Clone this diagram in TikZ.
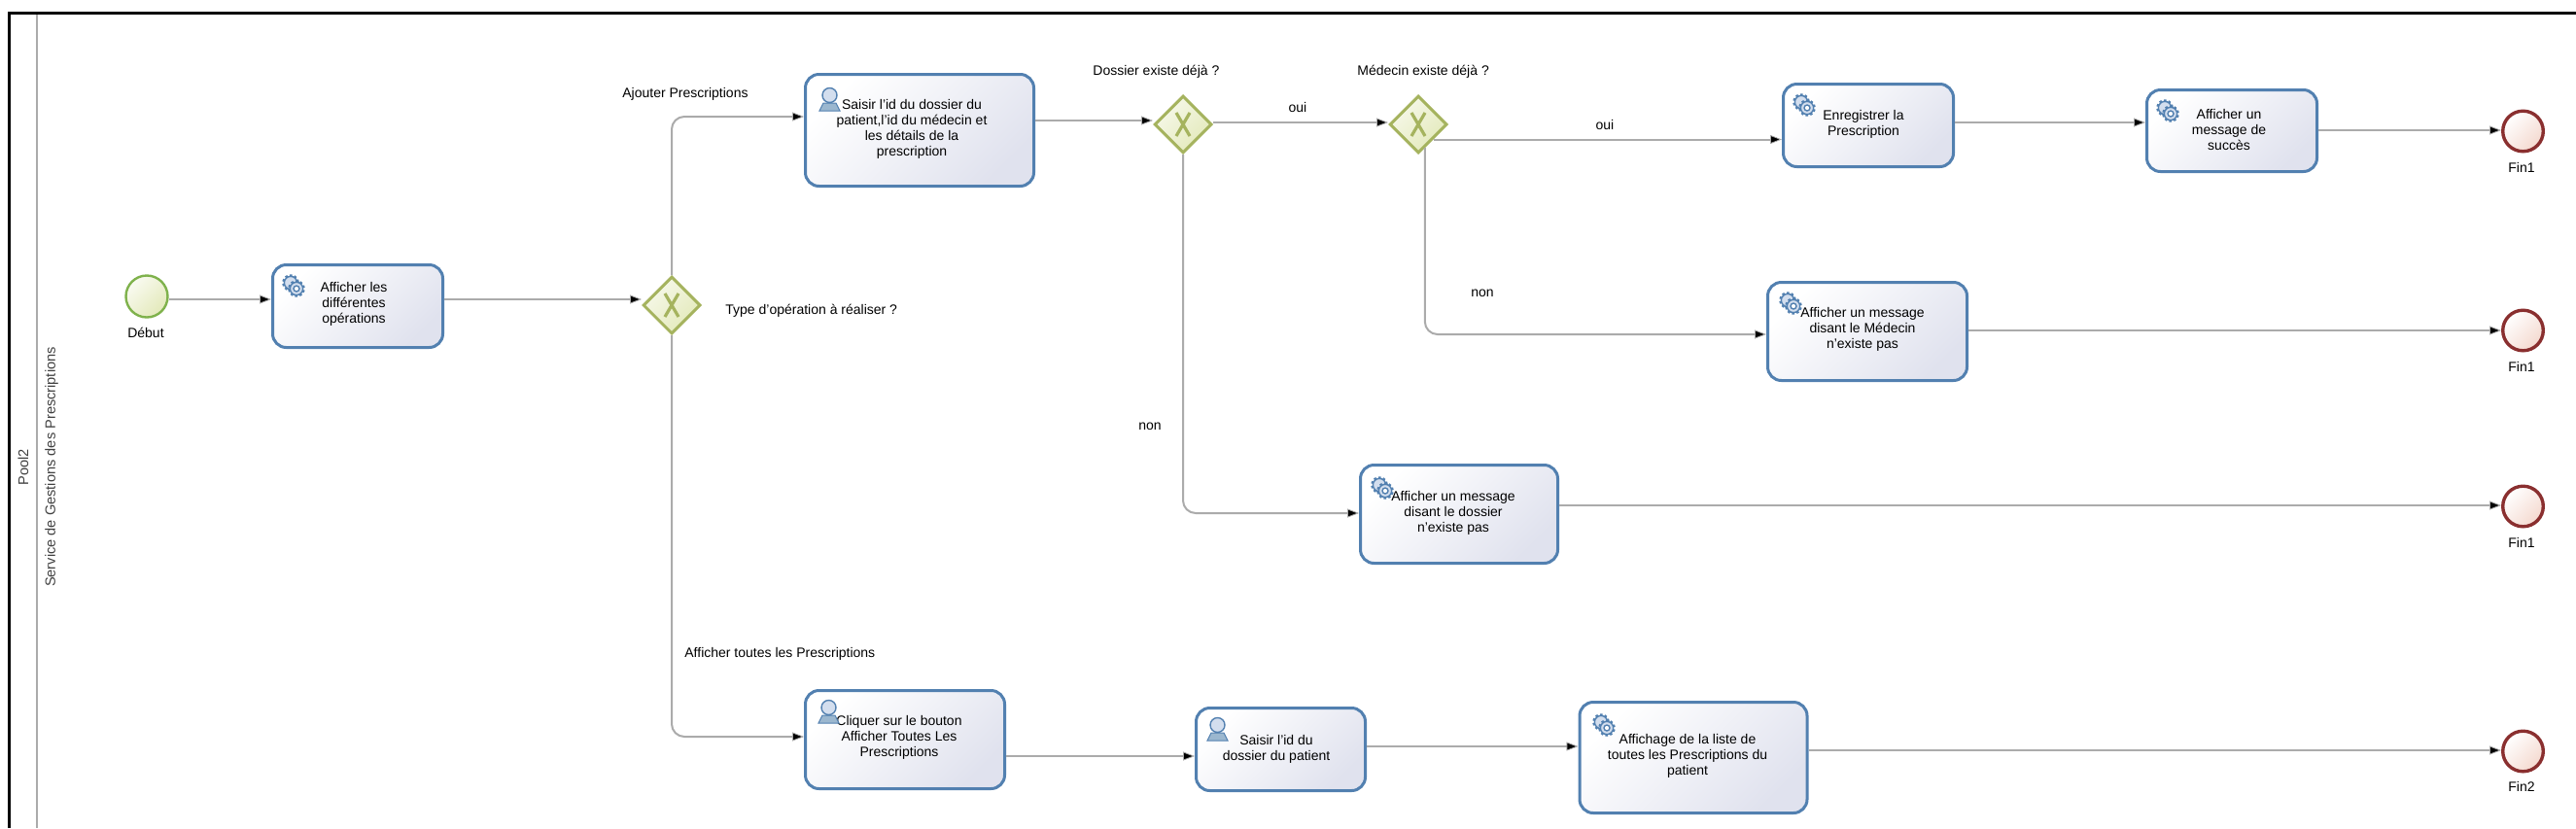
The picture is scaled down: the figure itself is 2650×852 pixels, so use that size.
\documentclass[tikz,border=0pt]{standalone}
\usepackage{fontspec}
\setmainfont{Liberation Sans}
\usetikzlibrary{calc}
\usetikzlibrary{shapes.geometric}
\usetikzlibrary{arrows.meta}
\definecolor{taskblue}{HTML}{5280B0}
\definecolor{taskfill}{HTML}{E0E2EE}
\definecolor{gatestroke}{HTML}{A5B35E}
\definecolor{gatefill}{HTML}{E3E9BA}
\definecolor{startstroke}{HTML}{7FB24C}
\definecolor{endstroke}{HTML}{8A2F2F}
\definecolor{endfill}{HTML}{F4D9CF}
\definecolor{flowgrey}{HTML}{ABABAB}
\definecolor{headblue}{HTML}{D3DEEE}
\definecolor{bodyblue}{HTML}{9BB7CF}
\tikzset{
  taskbox/.style={draw=taskblue, line width=1.5pt, rounded corners=7pt, left color=white, right color=taskfill, shading angle=45, inner sep=0pt},
  tasktext/.style={align=center, font=\fontsize{7}{8}\selectfont, inner sep=0pt},
  lbl/.style={font=\fontsize{7}{8}\selectfont, inner sep=0pt},
  poolname/.style={font=\fontsize{7.3}{8}\selectfont, text=black!75, rotate=90, inner sep=0pt},
  gatebox/.style={diamond, draw=gatestroke, line width=1.5pt, left color=white!70!gatefill, right color=gatefill, shading angle=45, minimum size=29.5pt, inner sep=0pt},
  gatemark/.style={draw=gatestroke, line width=1.6pt},
  startbox/.style={circle, draw=startstroke, line width=1.2pt, left color=white!80!gatefill, right color=gatefill, shading angle=45, minimum size=21.5pt, inner sep=0pt},
  finbox/.style={circle, draw=endstroke, line width=1.7pt, left color=white, right color=endfill, shading angle=45, minimum size=20.8pt, inner sep=0pt},
  flow/.style={draw=flowgrey, line width=1pt, -{Triangle[length=6pt,width=4.5pt,fill=black,line width=.4pt]}},
  gearline/.style={draw=taskblue, line width=.7pt},
}
\newcommand{\tasknode}[8]{
  \node[taskbox, minimum width={(#4-3)*.5pt}, minimum height={(#5-3)*.5pt}] (#1) at (#2,#3) {};
  \node[tasktext] (#1txt) at (#6,#7) {#8};
}
\newcommand{\flowline}[3]{\draw[flow] (#1.east |- 0,#3) -- (#2.west |- 0,#3);}
\newcommand{\gatenode}[3]{
  \node[gatebox] (#1) at (#2,#3) {};
  \draw[gatemark] ($(#1)+(-7,-12)$) -- ($(#1)+(7,12)$);
  \draw[gatemark] ($(#1)+(7,-12)$) -- ($(#1)+(-7,12)$);
}
\newcommand{\finnode}[4]{
  \node[finbox] (#1) at (2595.5,#2) {};
  \node[lbl] (#1txt) at (2594,#3) {#4};
}
\newcommand{\gearicon}[2]{
  \begin{scope}[shift={(#1,#2)}]
    \foreach \cx in {9,15} {
      \foreach \a in {0,36,...,324} \draw[gearline, line width=1.3pt] ($(\cx,\cx)+(\a+20:6)$) -- ($(\cx,\cx)+(\a+20:8.7)$);
      \draw[gearline, fill=headblue] (\cx,\cx) circle (6.6);
    }
    \draw[gearline, fill=white] (15,15) circle (3);
  \end{scope}
}
\newcommand{\usericon}[2]{
  \begin{scope}[shift={(#1,#2)}]
    \draw[draw=taskblue, line width=.5pt, fill=bodyblue] (0,24) -- (4,16) -- (17,16) -- (21,24) -- cycle;
    \draw[draw=taskblue, line width=.7pt, fill=headblue] (10.5,8) circle (7.5);
  \end{scope}
}

\begin{document}
\begin{tikzpicture}[x=.5pt, y=-.5pt]
        \useasboundingbox (0,0) rectangle (2650,852);
        % pool
        \draw[line width=1.25pt] (9.5,852) -- (9.5,13.5) -- (2650,13.5);
        \draw[flowgrey, line width=1pt] (38,15) -- (38,852);
        \node[poolname] (pool) at (24,481) {Pool2};
        \node[poolname] (lane) at (53,480.5) {Service de Gestions des Prescriptions};

        % events
        \node[startbox] (start) at (151,305) {};
        \node[lbl] (starttxt) at (150,342) {Début};
        \finnode{endA}{135}{172}{Fin1}
        \finnode{endB}{340}{377}{Fin1}
        \finnode{endC}{521}{558}{Fin1}
        \finnode{endD}{773}{809.5}{Fin2}

        % gateways
        \gatenode{gType}{691}{314}
        \gatenode{gFile}{1217}{128}
        \gatenode{gDoctor}{1459}{128}

        % tasks
        \tasknode{tShow}{368}{315}{178}{88}{364}{312.5}{Afficher les\\différentes\\opérations}
        \tasknode{tInput}{946}{134}{238}{118}{938}{133}{Saisir l'id du dossier du\\patient,l'id du médecin et\\les détails de la\\prescription}
        \tasknode{tSave}{1922}{129}{178}{88}{1917}{128}{Enregistrer la\\Prescription}
        \tasknode{tSuccess}{2296}{134.5}{178}{87}{2293}{133}{Afficher un\\message de\\succès}
        \tasknode{tNoDoctor}{1921}{341}{208}{104}{1916}{339}{Afficher un message\\disant le Médecin\\n'existe pas}
        \tasknode{tNoFile}{1501}{529}{206}{104}{1495}{528}{Afficher un message\\disant le dossier\\n'existe pas}
        \tasknode{tList}{931}{761}{208}{104}{925}{759}{Cliquer sur le bouton\\Afficher Toutes Les\\Prescriptions}
        \tasknode{tId}{1317.5}{771}{177}{88}{1313}{771}{Saisir l'id du\\dossier du patient}
        \tasknode{tResult}{1742}{779.5}{237}{117}{1736}{778}{Affichage de la liste de\\toutes les Prescriptions du\\patient}

        % icons
        \gearicon{290}{282}
        \gearicon{1844}{96}
        \gearicon{2218}{102}
        \gearicon{1830}{300}
        \gearicon{1410}{490}
        \gearicon{1638}{734}
        \usericon{843}{90}
        \usericon{842}{720}
        \usericon{1242}{738}

        % flows
        \flowline{start}{tShow}{308}
        \flowline{tShow}{gType}{308}
        \flowline{tInput}{gFile}{124}
        \flowline{gFile}{gDoctor}{126}
        \flowline{tSave}{tSuccess}{126}
        \flowline{tSuccess}{endA}{134}
        \flowline{tNoDoctor}{endB}{340}
        \flowline{tNoFile}{endC}{520}
        \flowline{tList}{tId}{778}
        \flowline{tId}{tResult}{768}
        \flowline{tResult}{endD}{772}
        \draw[flow] (gDoctor.south east) -- (gDoctor.south east -| tSave.west);
        \draw[flow, rounded corners=6.5pt] (gType.north) |- (tInput.west |- 0,120);
        \draw[flow, rounded corners=6.5pt] (gType.south) |- (tList.west |- 0,758);
        \draw[flow, rounded corners=6.5pt] (gFile.south) |- (tNoFile.west |- 0,528);
        \draw[flow, rounded corners=6.5pt] ($(gDoctor.south)!.22!(gDoctor.east)$) |- (tNoDoctor.west |- 0,344);

        % labels
        \node[lbl, anchor=west] (lAdd) at (640,97) {Ajouter Prescriptions};
        \node[lbl, anchor=west] (lType) at (746,320) {Type d'opération à réaliser ?};
        \node[lbl, anchor=west] (lAll) at (704,673) {Afficher toutes les Prescriptions};
        \node[lbl, anchor=west] (lFile) at (1124,74) {Dossier existe déjà ?};
        \node[lbl, anchor=west] (lDoctor) at (1396,74) {Médecin existe déjà ?};
        \node[lbl] (lYesA) at (1335,110) {oui};
        \node[lbl] (lYesB) at (1651,128) {oui};
        \node[lbl] (lNoA) at (1525,302) {non};
        \node[lbl] (lNoB) at (1183,439) {non};

    \end{tikzpicture}
\end{document}
